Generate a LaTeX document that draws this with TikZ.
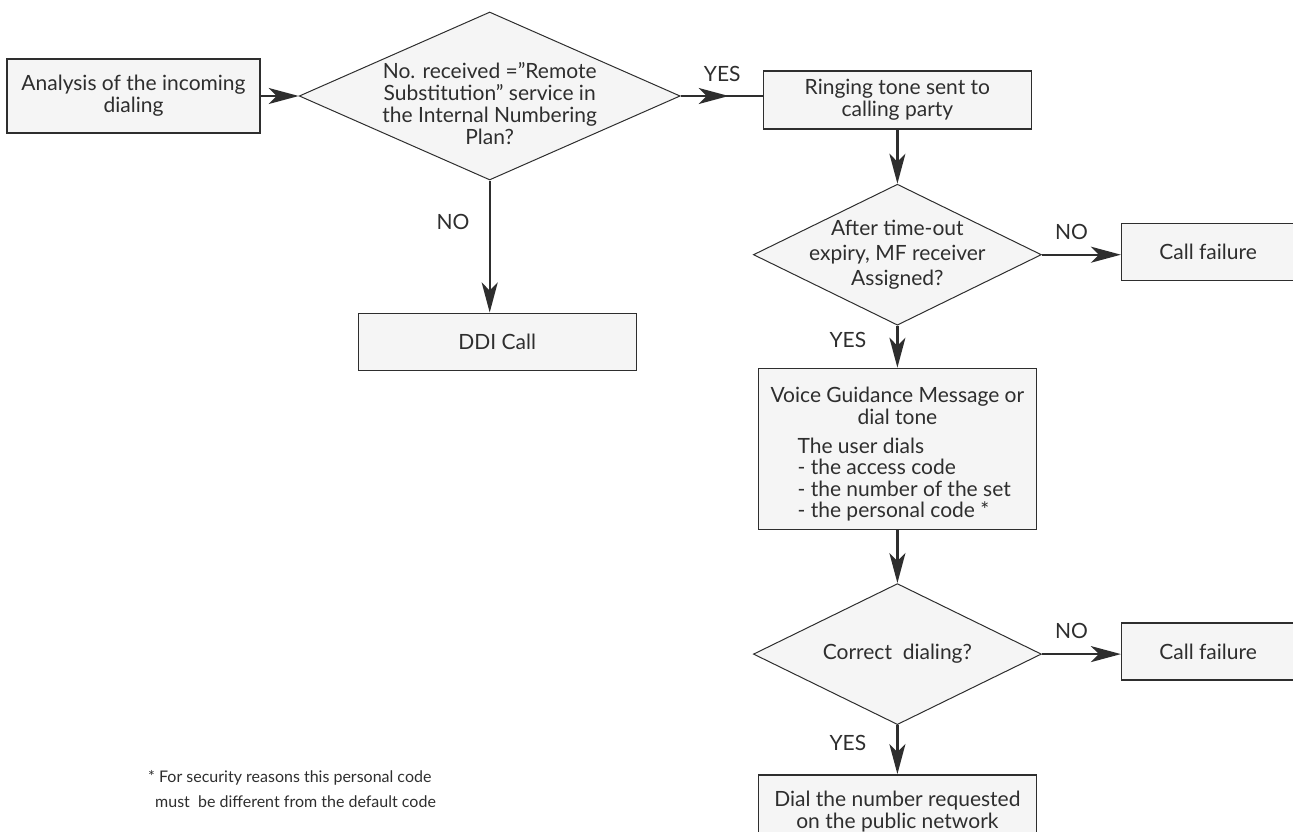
\documentclass[tikz,border=0pt]{standalone}
\usepackage{fontspec}
\setmainfont{Lato}
\usetikzlibrary{shapes.geometric, arrows.meta, positioning}
\definecolor{boxfill}{HTML}{F5F5F5}
\definecolor{linegray}{HTML}{2E2E2E}
\newcommand{\flowfont}{\fontsize{21}{22}\selectfont}
\newcommand{\tagfont}{\fontsize{21}{22}\selectfont}
\newcommand{\notefont}{\fontsize{16}{25}\selectfont}
\tikzset{
  step_box/.style={rectangle, draw=linegray, fill=boxfill, line width=1.4pt, inner sep=2pt, align=center, font=\flowfont, text=linegray},
  test_box/.style={diamond, draw=linegray, fill=boxfill, line width=1pt, inner sep=-40pt, align=center, font=\flowfont, text=linegray, minimum width=288pt, minimum height=141pt},
  arrow/.style={-{Stealth[length=30pt, width=16pt, inset=8pt]}, line width=2.4pt, linegray},
  connect/.style={-, line width=2.4pt, linegray},
  label_text/.style={inner sep=0pt, font=\tagfont, text=linegray},
  note_text/.style={inner sep=0pt, align=left, font=\notefont, text=linegray}
}

\begin{document}
\begin{tikzpicture}[x=1pt, y=-1pt]
  \useasboundingbox (0,0) rectangle (1293,832);

  % Main branch
  \node (ana) [step_box, minimum width=253pt, minimum height=74pt] at (133.5,96) {Analysis of the incoming\\dialing};
  \node (remote) [test_box, right=38pt of ana, minimum width=381pt, minimum height=168pt] {\rule{0pt}{31pt}No. received =\symbol{34}Remote\\Substitution\symbol{34} service in\\the Internal Numbering\\Plan?};
  \node (ddi) [step_box, below=132pt of remote, xshift=7.5pt, minimum width=278pt, minimum height=57pt] {DDI Call};

  % Right column
  \node (ring) [step_box, right=82pt of remote, yshift=-4pt, minimum width=268pt, minimum height=58pt] {Ringing tone sent to\\calling party};
  \node (mfrec) [test_box, below=54pt of ring, font=\fontsize{21}{25}\selectfont] {After time-out\\expiry, MF receiver\\Assigned?};
  \node (fail1) [step_box, right=79pt of mfrec, yshift=3pt, minimum width=173pt, minimum height=57pt] {Call failure};
  \node (guide) [step_box, below=42pt of mfrec, minimum width=278pt, minimum height=161pt] {\begin{tabular}{@{}l@{}}
      \multicolumn{1}{@{}c@{}}{\rule{0pt}{29pt}Voice Guidance Message or}\\
      \multicolumn{1}{@{}c@{}}{dial tone}\\[7pt]
      \hspace*{27pt}The user dials\\[-1pt]
      \hspace*{27pt}- the access code\\[-1pt]
      \hspace*{27pt}- the number of the set\\[-1pt]
      \hspace*{27pt}- the personal code *
    \end{tabular}};
  \node (dialok) [test_box, below=53pt of guide] {Correct \ dialing?};
  \node (fail2) [step_box, right=79pt of dialok, yshift=2.5pt, minimum width=173pt, minimum height=57pt] {Call failure};
  \node (dialnum) [step_box, below=49pt of dialok, minimum width=278pt, minimum height=74pt] {Dial the number requested\\on the public network};

  % Footnote
  \node (note) [note_text, anchor=west] at (148,789) {* For security reasons this personal code\\\hspace*{7pt}must \ be different from the default code};

  % Connections
  \coordinate [right=48pt of remote.east] (yes_tip);
  \draw [arrow] (ana) -- (remote);
  \draw [connect] (remote.east) -- (remote.east -| ring.west);
  \draw [arrow] (remote.east) -- (yes_tip);
  \draw [arrow] (remote.south) -- (remote.south |- ddi.north);
  \draw [arrow] (ring) -- (mfrec);
  \draw [arrow] (mfrec.east) -- (mfrec.east -| fail1.west);
  \draw [arrow] (mfrec) -- (guide);
  \draw [arrow] (guide) -- (dialok);
  \draw [arrow] (dialok.east) -- (dialok.east -| fail2.west);
  \draw [arrow] (dialok) -- (dialnum);

  % Labels
  \node (yes1) [label_text, above right=14pt and 23pt of remote.east] {YES};
  \node (no1) [label_text, below left=34pt and 20pt of remote.south] {NO};
  \node (no2) [label_text, above right=15pt and 13pt of mfrec.east] {NO};
  \node (yes2) [label_text, below left=6pt and 31pt of mfrec.south] {YES};
  \node (no3) [label_text, above right=15pt and 13pt of dialok.east] {NO};
  \node (yes3) [label_text, below left=10pt and 31pt of dialok.south] {YES};
\end{tikzpicture}
\end{document}
